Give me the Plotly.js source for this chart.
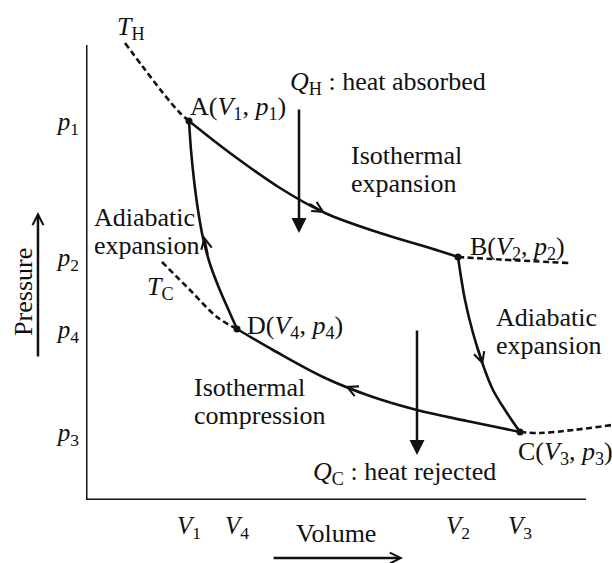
<!DOCTYPE html>
<html>
<head>
<meta charset="utf-8">
<script src="https://cdn.plot.ly/plotly-3.0.1.min.js"></script>
<style>html,body{margin:0;padding:0;background:#fff;}#chart{width:612px;height:563px;}</style>
</head>
<body>
<div id="chart"></div>
<script>
// ---- Data (arbitrary volume / pressure units) ----
const pointNames = ['A', 'B', 'C', 'D'];
const pointV = [10.3, 37.2, 43.4, 15.1];
const pointP = [37.9, 24.3, 6.8, 17.1];

const volTickVals = [10.3, 15.1, 37.2, 43.4];
const volTickText = ['<i>V</i><sub>1</sub>', '<i>V</i><sub>4</sub>', '<i>V</i><sub>2</sub>', '<i>V</i><sub>3</sub>'];
const presTickVals = [37.9, 24.3, 17.1, 6.8];
const presTickText = ['<i>p</i><sub>1</sub>', '<i>p</i><sub>2</sub>', '<i>p</i><sub>4</sub>', '<i>p</i><sub>3</sub>'];

// Hot isotherm T_H
const hotDashV1 = [3.9, 5.7, 7.7, 9.4, 10.3];
const hotDashP1 = [45.7, 43.3, 40.7, 38.7, 37.9];
const hotV = [10.3, 14.4, 19.4, 23.9, 29.4, 34.4, 37.2];
const hotP = [37.9, 34.7, 31.2, 28.7, 26.7, 25.2, 24.3];
const hotDashV2 = [37.2, 41.4, 48.3];
const hotDashP2 = [24.3, 24.05, 23.7];
// Adiabat B -> C
const adBCV = [37.2, 37.9, 38.7, 39.7, 40.7, 42.1, 43.4];
const adBCP = [24.3, 20.0, 16.7, 13.5, 11.0, 8.7, 6.8];
// Cold isotherm T_C
const coldDashV2 = [43.4, 45.4, 48.7, 52.6];
const coldDashP2 = [6.8, 6.7, 7.0, 7.5];
const coldV = [15.1, 18.7, 23.7, 28.4, 33.1, 38.1, 43.4];
const coldP = [17.1, 15.0, 12.3, 10.4, 9.0, 7.9, 6.8];
const coldDashV1 = [7.6, 10.4, 13.1, 15.1];
const coldDashP1 = [23.8, 21.0, 18.3, 17.1];
// Adiabat D -> A
const adDAV = [15.1, 14.3, 13.3, 12.4, 11.7, 11.2, 10.8, 10.5, 10.3];
const adDAP = [17.1, 18.9, 21.2, 23.6, 26.2, 29.0, 32.0, 35.0, 37.9];

// direction markers along the cycle (tip positions on the curves)
const flowV = [23.9, 39.7, 25.9, 11.8];
const flowP = [28.7, 13.5, 11.4, 26.4];

// ---- Styling ----
const FONT = 'Liberation Serif, Tinos, Times New Roman, Times, DejaVu Serif, serif';
const FS = 26;
const solid = {color: '#111', width: 2.6};
const dashed = {color: '#111', width: 2.6, dash: '6px,3.5px'};

function line(x, y, l) {
  return {x: x, y: y, type: 'scatter', mode: 'lines', line: Object.assign({shape: 'spline', smoothing: 1}, l), hoverinfo: 'skip'};
}

const traces = [
  line(hotDashV1, hotDashP1, dashed),
  line(hotV, hotP, solid),
  line(hotDashV2, hotDashP2, dashed),
  line(adBCV, adBCP, solid),
  line(coldDashV2, coldDashP2, dashed),
  line(coldV, coldP, solid),
  line(coldDashV1, coldDashP1, dashed),
  line(adDAV, adDAP, solid),
  {x: pointV, y: pointP, text: pointNames, type: 'scatter', mode: 'markers',
   marker: {color: '#111', size: 7}, hoverinfo: 'skip'}
];

// tail offsets (px) giving the direction of travel at each flow marker
const flowTail = [[-17, -10], [-6, -19], [18, 8], [4, 20]];
const annotations = [];
flowV.forEach((v, i) => {
  annotations.push({x: v, y: flowP[i], xref: 'x', yref: 'y', text: '', showarrow: true,
    ax: flowTail[i][0], ay: flowTail[i][1], arrowhead: 5, arrowwidth: 2.2, arrowsize: 0.95, arrowcolor: '#111'});
});

// heat arrows
annotations.push({x: 21.3, y: 26.7, xref: 'x', yref: 'y', text: '', showarrow: true, ax: 0, ay: -125,
  arrowhead: 2, arrowwidth: 2.5, arrowsize: 1.2, arrowcolor: '#111'});
annotations.push({x: 33.1, y: 4.5, xref: 'x', yref: 'y', text: '', showarrow: true, ax: 0, ay: -126,
  arrowhead: 2, arrowwidth: 2.5, arrowsize: 1.2, arrowcolor: '#111'});

// axis-direction arrows (outside the plot area -> paper refs)
annotations.push({x: -0.0913, y: 0.576, xref: 'paper', yref: 'paper', text: '', showarrow: true, ax: 0, ay: 146,
  arrowhead: 5, arrowwidth: 2.5, arrowsize: 0.85, arrowcolor: '#111'});
annotations.push({x: 0.6027, y: -0.116, xref: 'paper', yref: 'paper', text: '', showarrow: true, ax: -131, ay: 0,
  arrowhead: 5, arrowwidth: 2.5, arrowsize: 0.85, arrowcolor: '#111'});

function label(text, x, y, opts) {
  return Object.assign({x: x, y: y, xref: 'x', yref: 'y', text: text, showarrow: false,
    xanchor: 'left', yanchor: 'middle', font: {family: FONT, size: FS, color: '#111'}}, opts || {});
}
annotations.push(label('<i>T</i><sub>H</sub>', 2.9, 47.2));
annotations.push(label('A(<i>V</i><sub>1</sub>, <i>p</i><sub>1</sub>)', 10.2, 39.2));
annotations.push(label('<i>Q</i><sub>H</sub> : heat absorbed', 20.2, 41.7));
annotations.push(label('Isothermal', 26.3, 34.5));
annotations.push(label('expansion', 26.3, 31.7));
annotations.push(label('B(<i>V</i><sub>2</sub>, <i>p</i><sub>2</sub>)', 38.2, 25.2));
annotations.push(label('Adiabatic', 0.6, 28.3));
annotations.push(label('expansion', 0.6, 25.5));
annotations.push(label('<i>T</i><sub>C</sub>', 5.9, 21.2));
annotations.push(label('D(<i>V</i><sub>4</sub>, <i>p</i><sub>4</sub>)', 15.9, 17.3));
annotations.push(label('Adiabatic', 40.8, 18.3));
annotations.push(label('expansion', 40.8, 15.5));
annotations.push(label('Isothermal', 10.6, 11.3));
annotations.push(label('compression', 10.6, 8.5));
annotations.push(label('C(<i>V</i><sub>3</sub>, <i>p</i><sub>3</sub>)', 43.0, 4.7));
annotations.push(label('<i>Q</i><sub>C</sub> : heat rejected', 22.5, 2.7));
annotations.push(label('Pressure', -0.12, 0.416, {xref: 'paper', yref: 'paper', xanchor: 'center', textangle: -90}));
annotations.push(label('Volume', 0.475, -0.066, {xref: 'paper', yref: 'paper', xanchor: 'center'}));

const layout = {
  width: 612, height: 563,
  margin: {l: 86, r: 0, t: 0, b: 63, pad: 0},
  paper_bgcolor: '#fff', plot_bgcolor: '#fff',
  showlegend: false, hovermode: false,
  font: {family: FONT, size: FS, color: '#111'},
  xaxis: {range: [0, 52.6], showgrid: false, zeroline: false, showline: false, ticks: '',
    tickvals: volTickVals, ticktext: volTickText, tickfont: {family: FONT, size: 25, color: '#111'},
    ticklabelstandoff: 8},
  yaxis: {range: [0, 50], showgrid: false, zeroline: false, showline: false, ticks: '',
    tickvals: presTickVals, ticktext: presTickText, tickfont: {family: FONT, size: 25, color: '#111'},
    ticklabelstandoff: 6},
  shapes: [
    {type: 'line', xref: 'x', yref: 'y', x0: 0, y0: 45.5, x1: 0, y1: 0, line: {color: '#111', width: 3}},
    {type: 'line', xref: 'x', yref: 'y', x0: 0, y0: 0, x1: 50.0, y1: 0, line: {color: '#111', width: 3}}
  ],
  annotations: annotations
};

Plotly.newPlot('chart', traces, layout, {staticPlot: true, displayModeBar: false});
</script>
</body>
</html>
